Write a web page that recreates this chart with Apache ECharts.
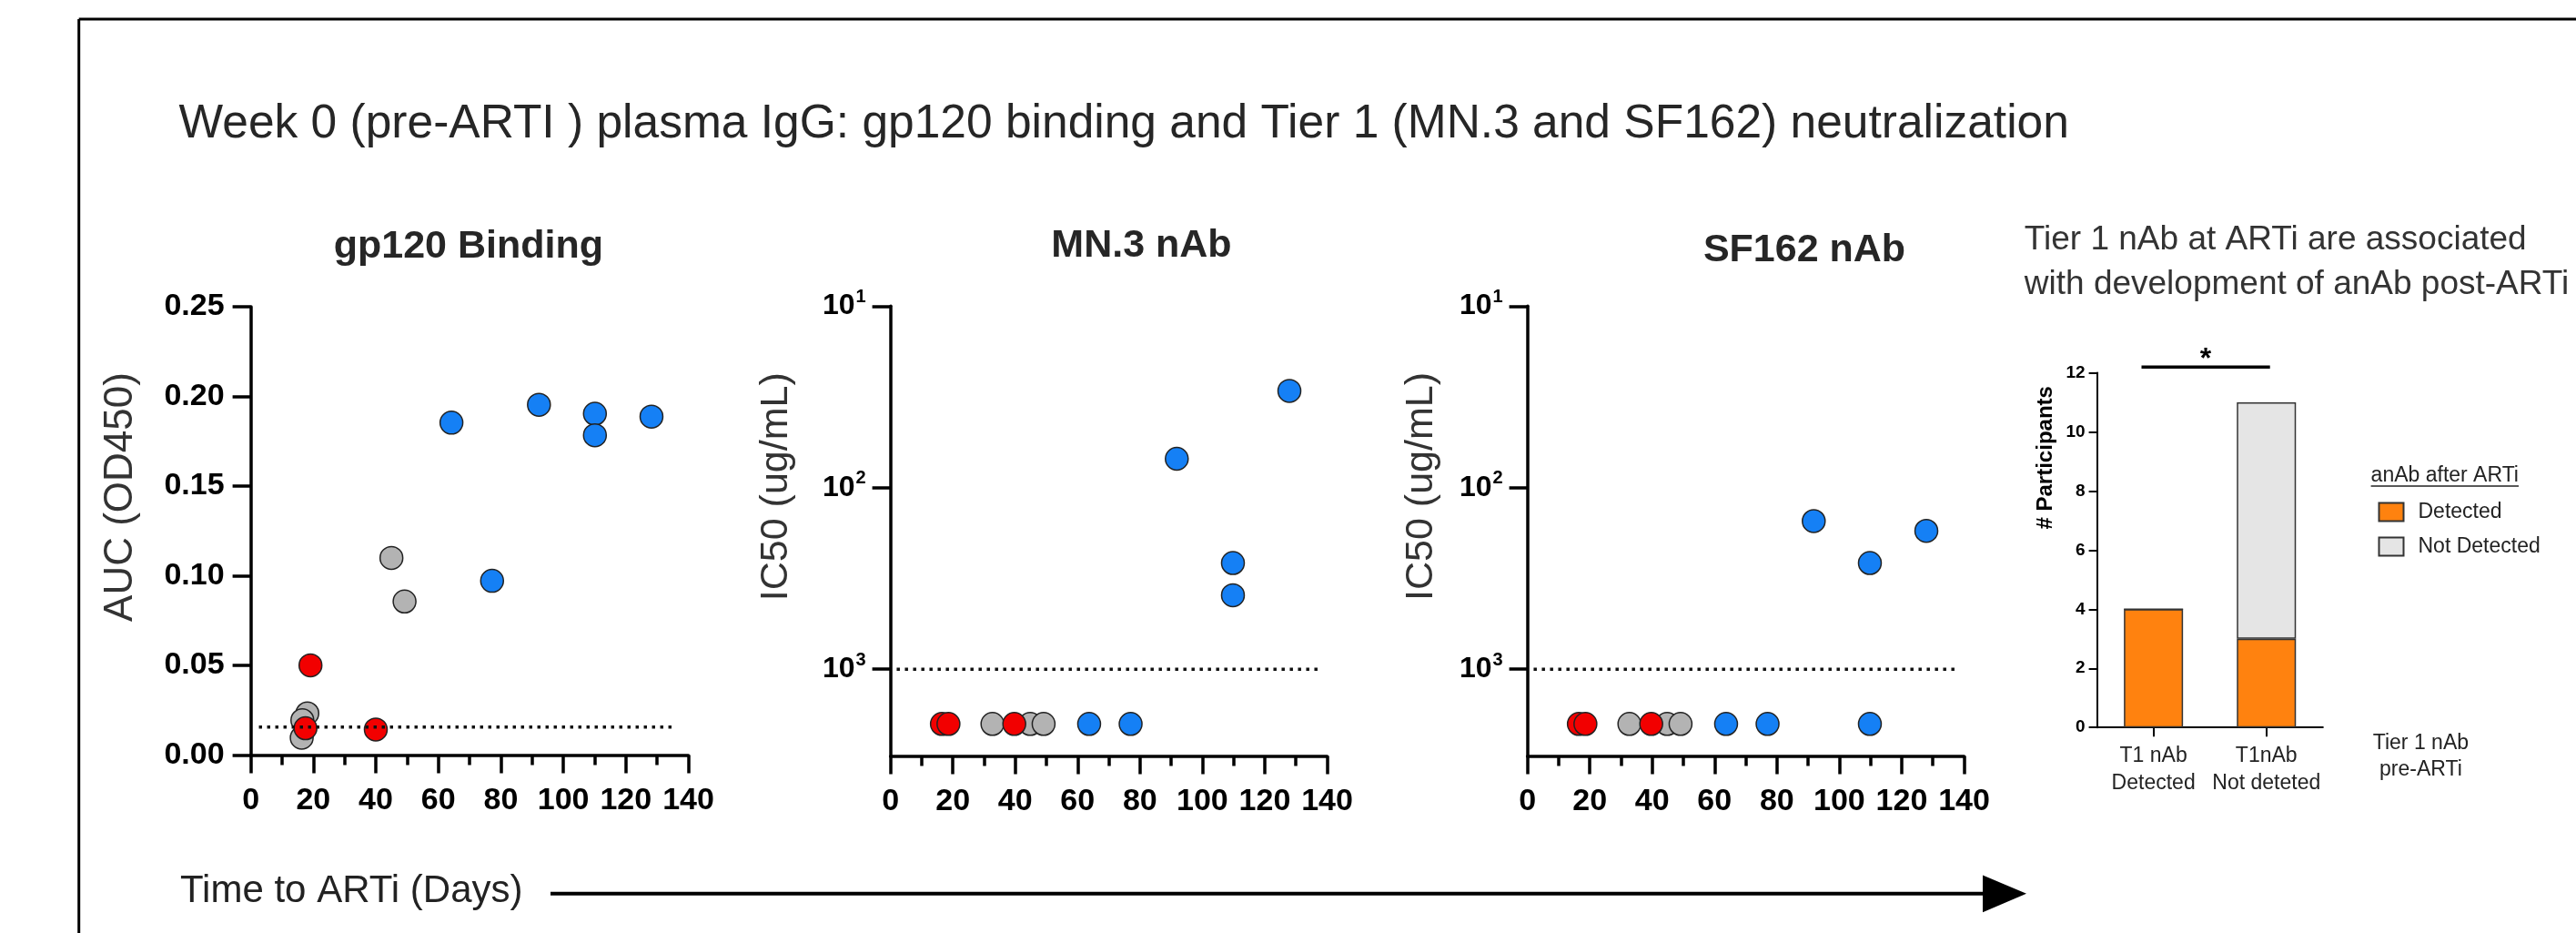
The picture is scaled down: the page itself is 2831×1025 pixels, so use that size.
<!DOCTYPE html>
<html>
<head>
<meta charset="utf-8">
<title>Week 0 (pre-ARTI) plasma IgG</title>
<script src="https://cdn.jsdelivr.net/npm/echarts@6/dist/echarts.min.js"></script>
<style>
html,body{margin:0;padding:0;background:#fff;}
#main{width:2831px;height:1025px;}
</style>
</head>
<body>
<div id="main"></div>
<script>
// values (days to ARTi vs readout)
var gpGrayDays = [45.0, 49.2, 18.1, 16.5, 16.3];
var gpGrayAuc  = [0.110, 0.0857, 0.0233, 0.0195, 0.0097];
var gpBlueDays = [64.2, 92.2, 110.1, 110.1, 128.2, 77.2];
var gpBlueAuc  = [0.1854, 0.1954, 0.1904, 0.1784, 0.1888, 0.0972];
var gpRedDays  = [19.1, 17.5, 40.0];
var gpRedAuc   = [0.0501, 0.0150, 0.0143];
var gpCutoff   = 0.0156;
var gpCutDays  = [2.6, 135.4];

var mnGrayDays = [32.7, 44.8, 49.1];
var mnGrayIc50 = [2000, 2000, 2000];
var mnBlueDays = [127.9, 91.8, 109.8, 109.8, 63.7, 77.0];
var mnBlueIc50 = [29.3, 69.3, 260, 391, 2000, 2000];
var mnRedDays  = [16.5, 18.6, 39.7];
var mnRedIc50  = [2000, 2000, 2000];

var sfGrayDays = [32.7, 44.8, 49.1];
var sfGrayIc50 = [2000, 2000, 2000];
var sfBlueDays = [91.8, 127.9, 109.8, 63.7, 77.0, 109.8];
var sfBlueIc50 = [152.8, 172.9, 260, 2000, 2000, 2000];
var sfRedDays  = [16.5, 18.6, 39.7];
var sfRedIc50  = [2000, 2000, 2000];

var nabCutoff  = 1000;
var nabCutDays = [2.0, 138.0];
var logTicks   = [10, 100, 1000];

var barCats        = ['T1 nAb\nDetected', 'T1nAb\nNot deteted'];
var barDetected    = [4, 3];
var barNotDetected = [0, 8];

var FONT = '"Liberation Sans", Arial, Helvetica, sans-serif';
var BLUE = '#1580F5', RED = '#F20000', GRAY = '#B3B3B3';

function pairs(xs, ys){
    return xs.map(function(x, i){ return [x, ys[i]]; });
}
function dots(name, idx, xs, ys, color){
    return {
        name: name, type: 'scatter', xAxisIndex: idx, yAxisIndex: idx,
        data: pairs(xs, ys), symbolSize: 25, silent: true,
        itemStyle: {color: color, borderColor: '#222', borderWidth: 1.5, opacity: 1}
    };
}
function cutLine(idx, days, val){
    return {
        type: 'line', xAxisIndex: idx, yAxisIndex: idx, silent: true,
        data: [[days[0], val], [days[1], val]], showSymbol: false,
        lineStyle: {color: '#111', width: 3.5, type: [3.5, 5.5]}
    };
}
function dayAxis(idx){
    return {
        gridIndex: idx, type: 'value', min: 0, max: 140, interval: 20,
        axisLine: {show: true, onZero: false, lineStyle: {color: '#000', width: 3.5}},
        axisTick: {show: true, length: 20, lineStyle: {color: '#000', width: 3.5}},
        minorTick: {show: true, splitNumber: 2, length: 11, lineStyle: {color: '#000', width: 3.5}},
        splitLine: {show: false},
        axisLabel: {fontSize: 34, fontWeight: 'bold', color: '#000', fontFamily: FONT, margin: 33}
    };
}
function ic50Axis(idx){
    return {
        gridIndex: idx, type: 'log', logBase: 10, min: 10, max: 3000, inverse: true,
        axisLine: {show: true, onZero: false, lineStyle: {color: '#000', width: 3.5}},
        axisTick: {show: true, customValues: logTicks, length: 20, lineStyle: {color: '#000', width: 3.5}},
        minorTick: {show: false},
        splitLine: {show: false},
        axisLabel: {
            customValues: logTicks, margin: 27, color: '#000',
            formatter: function(v){ return '{b|10}{s|' + Math.round(Math.log(v) / Math.LN10) + '}'; },
            rich: {
                b: {fontSize: 32, fontWeight: 'bold', color: '#000', fontFamily: FONT, lineHeight: 40},
                s: {fontSize: 20, fontWeight: 'bold', color: '#000', fontFamily: FONT, verticalAlign: 'top', padding: [0, 0, 0, 1]}
            }
        }
    };
}
function txt(x, y, text, size, opts){
    var st = {text: text, fontSize: size, fontFamily: FONT, fill: '#262626', align: 'left', verticalAlign: 'middle'};
    for (var k in opts) st[k] = opts[k];
    return {type: 'text', x: x, y: y, silent: true, style: st};
}

var myChart = echarts.init(document.getElementById('main'));
var option = {
    animation: false,
    backgroundColor: '#fff',
    grid: [
        {left: 275.6, top: 337.1, width: 480.9, height: 492.5},
        {left: 978.6, top: 336.3, width: 479.9, height: 494.1},
        {left: 1678.6, top: 336.3, width: 479.9, height: 494.1},
        {left: 2304.6, top: 409.5, width: 248.2, height: 389.7}
    ],
    xAxis: [
        dayAxis(0), dayAxis(1), dayAxis(2),
        {
            gridIndex: 3, type: 'category', data: barCats,
            axisLine: {show: true, lineStyle: {color: '#000', width: 2}},
            axisTick: {show: true, alignWithLabel: true, length: 10, lineStyle: {color: '#000', width: 2}},
            axisLabel: {fontSize: 23, lineHeight: 30, color: '#222', fontFamily: FONT, margin: 16, interval: 0}
        }
    ],
    yAxis: [
        {
            gridIndex: 0, type: 'value', min: 0, max: 0.25, interval: 0.05,
            axisLine: {show: true, onZero: false, lineStyle: {color: '#000', width: 3.5}},
            axisTick: {show: true, length: 20, lineStyle: {color: '#000', width: 3.5}},
            splitLine: {show: false},
            axisLabel: {fontSize: 34, fontWeight: 'bold', color: '#000', fontFamily: FONT, margin: 29,
                formatter: function(v){ return v.toFixed(2); }}
        },
        ic50Axis(1), ic50Axis(2),
        {
            gridIndex: 3, type: 'value', min: 0, max: 12, interval: 2,
            axisLine: {show: true, lineStyle: {color: '#000', width: 2}},
            axisTick: {show: true, length: 9, lineStyle: {color: '#000', width: 2}},
            splitLine: {show: false},
            axisLabel: {fontSize: 19, fontWeight: 'bold', color: '#000', fontFamily: FONT, margin: 13}
        }
    ],
    legend: {
        data: ['Detected', 'Not Detected'], orient: 'vertical', left: 2608.5, top: 546,
        itemWidth: 27, itemHeight: 20, itemGap: 15, icon: 'rect', selectedMode: false,
        textStyle: {fontSize: 23, color: '#222', fontFamily: FONT, padding: [0, 0, 0, 11]}
    },
    series: [
        cutLine(0, gpCutDays, gpCutoff),
        dots('gray', 0, gpGrayDays, gpGrayAuc, GRAY),
        dots('blue', 0, gpBlueDays, gpBlueAuc, BLUE),
        dots('red', 0, gpRedDays, gpRedAuc, RED),
        cutLine(1, nabCutDays, nabCutoff),
        dots('gray', 1, mnGrayDays, mnGrayIc50, GRAY),
        dots('blue', 1, mnBlueDays, mnBlueIc50, BLUE),
        dots('red', 1, mnRedDays, mnRedIc50, RED),
        cutLine(2, nabCutDays, nabCutoff),
        dots('gray', 2, sfGrayDays, sfGrayIc50, GRAY),
        dots('blue', 2, sfBlueDays, sfBlueIc50, BLUE),
        dots('red', 2, sfRedDays, sfRedIc50, RED),
        {
            name: 'Detected', type: 'bar', xAxisIndex: 3, yAxisIndex: 3, stack: 'anab',
            barWidth: 65, data: barDetected, silent: true,
            itemStyle: {color: '#FF820F', borderColor: '#333', borderWidth: 1.5}
        },
        {
            name: 'Not Detected', type: 'bar', xAxisIndex: 3, yAxisIndex: 3, stack: 'anab',
            barWidth: 65, data: barNotDetected, silent: true,
            itemStyle: {color: '#E5E5E5', borderColor: '#333', borderWidth: 1.5}
        }
    ],
    graphic: [
        // frame
        {type: 'line', silent: true, shape: {x1: 86.7, y1: 21, x2: 2831, y2: 21}, style: {stroke: '#000', lineWidth: 3}},
        {type: 'line', silent: true, shape: {x1: 86.7, y1: 21, x2: 86.7, y2: 1025}, style: {stroke: '#000', lineWidth: 3}},
        txt(196.6, 136.5, 'Week 0 (pre-ARTI ) plasma IgG: gp120 binding and Tier 1 (MN.3 and SF162) neutralization', 51.5),
        // panel titles
        txt(514.8, 271, 'gp120 Binding', 43, {fontWeight: 'bold', align: 'center'}),
        txt(1254.5, 270, 'MN.3 nAb', 43, {fontWeight: 'bold', align: 'center'}),
        txt(1983, 275.5, 'SF162 nAb', 43, {fontWeight: 'bold', align: 'center'}),
        // y axis names
        {type: 'text', x: 132.5, y: 546, rotation: Math.PI / 2, silent: true,
            style: {text: 'AUC (OD450)', fontSize: 44, fontFamily: FONT, fill: '#333', align: 'center', verticalAlign: 'middle'}},
        {type: 'text', x: 853.6, y: 534.7, rotation: Math.PI / 2, silent: true,
            style: {text: 'IC50 (ug/mL)', fontSize: 43, fontFamily: FONT, fill: '#333', align: 'center', verticalAlign: 'middle'}},
        {type: 'text', x: 1562.5, y: 534.5, rotation: Math.PI / 2, silent: true,
            style: {text: 'IC50 (ug/mL)', fontSize: 43, fontFamily: FONT, fill: '#333', align: 'center', verticalAlign: 'middle'}},
        // right panel
        txt(2224.8, 239, 'Tier 1 nAb at ARTi are associated\nwith development of anAb post-ARTi', 37, {verticalAlign: 'top', lineHeight: 49, fill: '#333'}),
        {type: 'text', x: 2248.5, y: 502.8, rotation: Math.PI / 2, silent: true,
            style: {text: '# Participants', fontSize: 24, fontWeight: 'bold', fontFamily: FONT, fill: '#000', align: 'center', verticalAlign: 'middle'}},
        {type: 'line', silent: true, shape: {x1: 2353.5, y1: 403.2, x2: 2494.7, y2: 403.2}, style: {stroke: '#000', lineWidth: 3.6}},
        txt(2424.1, 395, '*', 32, {fontWeight: 'bold', align: 'center', fill: '#000'}),
        txt(2605.6, 522.4, 'anAb after ARTi', 23, {fill: '#222'}),
        {type: 'line', silent: true, shape: {x1: 2605.6, y1: 534, x2: 2768, y2: 534}, style: {stroke: '#222', lineWidth: 1.5}},
        txt(2660.4, 802.5, 'Tier 1 nAb\npre-ARTi', 23, {align: 'center', verticalAlign: 'top', lineHeight: 29, fill: '#222'}),
        // time arrow
        txt(198, 979, 'Time to ARTi (Days)', 42, {fill: '#222'}),
        {type: 'line', silent: true, shape: {x1: 605, y1: 981.7, x2: 2182, y2: 981.7}, style: {stroke: '#000', lineWidth: 4}},
        {type: 'polygon', silent: true, shape: {points: [[2179, 961.4], [2227, 981.7], [2179, 1002.2]]}, style: {fill: '#000'}}
    ]
};
myChart.setOption(option);
</script>
</body>
</html>
